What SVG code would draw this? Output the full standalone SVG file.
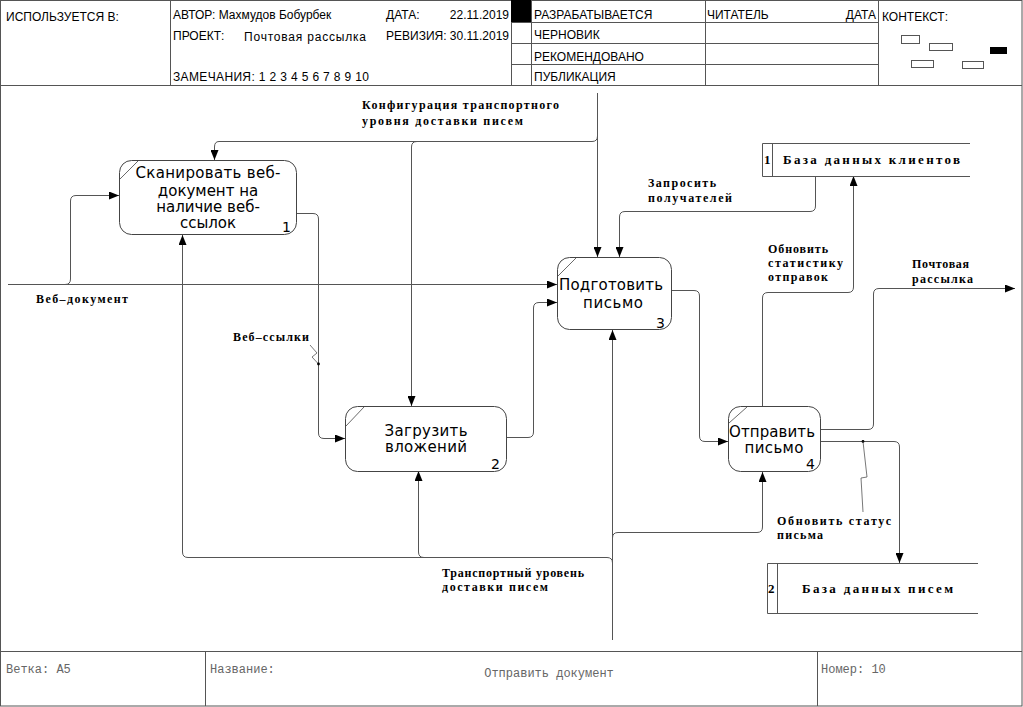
<svg xmlns="http://www.w3.org/2000/svg" width="1023" height="707" viewBox="0 0 1023 707">
  <style>
    .frame { fill: none; stroke: #555; stroke-width: 1; }
    .hdr { font-family: "Liberation Sans", Arial, sans-serif; font-size: 12px; fill: #000; }
    .ftr { font-family: "Liberation Mono", "Courier New", monospace; font-size: 12px; fill: #666; }
    .box { fill: #fff; stroke: #444; stroke-width: 1; }
    .corner { stroke: #444; stroke-width: 0.8; }
    .name { font-family: "DejaVu Sans", sans-serif; font-size: 15px; fill: #000; text-anchor: middle; }
    .num { font-family: "DejaVu Sans", sans-serif; font-size: 14px; fill: #000; }
    .lbl { font-family: "Liberation Serif", "Times New Roman", serif; font-size: 12px; font-weight: bold; fill: #000; }
    .store { fill: none; stroke: #555; stroke-width: 1; }
    .stxt { font-family: "Liberation Serif", "Times New Roman", serif; font-size: 13px; font-weight: bold; fill: #000; }
    .arc { fill: none; stroke: #555; stroke-width: 1; }
    .arr { marker-end: url(#head); }
    .sq { fill: none; stroke: #555; stroke-width: 0.8; }
  </style>
  <defs>
    <marker id="head" markerUnits="userSpaceOnUse" markerWidth="10" markerHeight="8" refX="10" refY="4" orient="auto">
      <path d="M0,0 L10,4 L0,8 z" fill="#000"/>
    </marker>
  </defs>

  <rect x="0" y="0" width="1023" height="707" fill="#fff"/>

  <!-- title block -->
  <g id="header">
    <rect class="frame" x="0.5" y="0.5" width="1021.5" height="705.5"/>
    <path class="frame" d="M0,85.5 H1022 M170.5,0 V85 M511.5,0 V85 M531.5,0 V85 M705.5,0 V85 M878.5,0 V85 M511,22.5 H878 M511,43.5 H878 M511,64.5 H878"/>
    <rect x="511" y="0" width="20" height="22" fill="#000"/>
    <text class="hdr" x="6" y="21">ИСПОЛЬЗУЕТСЯ В:</text>
    <text class="hdr" x="173" y="19">АВТОР: Махмудов Бобурбек</text>
    <text class="hdr" x="386" y="19">ДАТА:</text>
    <text class="hdr" x="509" y="19" text-anchor="end">22.11.2019</text>
    <text class="hdr" x="173" y="40">ПРОЕКТ:</text>
    <text class="hdr" x="244" y="41" textLength="122" lengthAdjust="spacing">Почтовая рассылка</text>
    <text class="hdr" x="386" y="40">РЕВИЗИЯ: 30.11.2019</text>
    <text class="hdr" x="173" y="81" textLength="196" lengthAdjust="spacing">ЗАМЕЧАНИЯ:  1 2 3 4 5 6 7 8 9 10</text>
    <text class="hdr" x="534" y="19">РАЗРАБАТЫВАЕТСЯ</text>
    <text class="hdr" x="534" y="39">ЧЕРНОВИК</text>
    <text class="hdr" x="534" y="61">РЕКОМЕНДОВАНО</text>
    <text class="hdr" x="534" y="81">ПУБЛИКАЦИЯ</text>
    <text class="hdr" x="707" y="19">ЧИТАТЕЛЬ</text>
    <text class="hdr" x="876" y="19" text-anchor="end">ДАТА</text>
    <text class="hdr" x="882" y="21">КОНТЕКСТ:</text>
    <g fill="none" stroke="#555" stroke-width="1">
      <rect x="901.5" y="35.5" width="18" height="8"/>
      <rect x="929.5" y="43.5" width="23" height="7"/>
      <rect x="911.5" y="60.5" width="22" height="7"/>
      <rect x="962.5" y="61.5" width="21" height="7"/>
    </g>
    <rect x="990" y="47" width="17" height="7" fill="#000"/>
  </g>

  <!-- footer -->
  <g id="footer">
    <path class="frame" d="M0,651.5 H1022 M205.5,651 V706 M817.5,651 V706"/>
    <text class="ftr" x="6" y="673" font-size="11">Ветка: A5</text>
    <text class="ftr" x="210" y="673">Название:</text>
    <text class="ftr" x="549" y="677" text-anchor="middle" font-size="13" fill="#222">Отправить документ</text>
    <text class="ftr" x="821" y="673">Номер: 10</text>
  </g>

  <!-- connectors -->
  <g id="connectors">
    <!-- control: transport configuration -->
    <path class="arc arr" d="M597.5,93 V257"/>
    <path class="arc arr" d="M597.5,136 Q597.5,141.5 592,141.5 H219 Q214.5,141.5 214.5,147 V160"/>
    <path class="arc arr" d="M417,141.5 Q411.5,141.5 411.5,147 V406"/>
    <text class="lbl" x="362" y="109" textLength="197" lengthAdjust="spacing">Конфигурация транспортного</text>
    <text class="lbl" x="362" y="125" textLength="161" lengthAdjust="spacing">уровня доставки писем</text>

    <!-- input: web document -->
    <path class="arc arr" d="M8,284.5 H557"/>
    <path class="arc arr" d="M65,284.5 Q70.5,284.5 70.5,279 V201 Q70.5,195.5 76,195.5 H119"/>
    <text class="lbl" x="36" y="303" textLength="92" lengthAdjust="spacing">Веб–документ</text>

    <!-- 1 -> 2: web links -->
    <path class="arc arr" d="M296,213.5 H313 Q318.5,213.5 318.5,219 V433 Q318.5,438.5 324,438.5 H345"/>
    <path class="sq" d="M310,345 L317,353 L312,357 L318.5,364"/>
    <circle cx="318.5" cy="364" r="1.4" fill="#000"/>
    <text class="lbl" x="233" y="341" textLength="76" lengthAdjust="spacing">Веб–ссылки</text>

    <!-- 2 -> 3 -->
    <path class="arc arr" d="M507,437.5 H528 Q533.5,437.5 533.5,432 V308 Q533.5,302.5 539,302.5 H557"/>

    <!-- 3 -> 4 -->
    <path class="arc arr" d="M671,290.5 H694 Q699.5,290.5 699.5,296 V436 Q699.5,441.5 705,441.5 H728"/>

    <!-- 4 -> output: mailing -->
    <path class="arc arr" d="M821,429.5 H868 Q873.5,429.5 873.5,424 V294 Q873.5,288.5 879,288.5 H1015"/>
    <text class="lbl" x="912" y="268" textLength="57" lengthAdjust="spacing">Почтовая</text>
    <text class="lbl" x="912" y="283" textLength="61" lengthAdjust="spacing">рассылка</text>

    <!-- 4 -> store 2: mail status -->
    <path class="arc arr" d="M821,441.5 H894 Q899.5,441.5 899.5,447 V563"/>
    <circle cx="863" cy="441.5" r="1.4" fill="#000"/>
    <path class="sq" d="M863,441.5 L867,477 L861,478 L863,512"/>
    <text class="lbl" x="777" y="525" textLength="114" lengthAdjust="spacing">Обновить статус</text>
    <text class="lbl" x="777" y="539" textLength="46" lengthAdjust="spacing">письма</text>

    <!-- 4 -> store 1: sending statistics -->
    <path class="arc arr" d="M762.5,406 V298 Q762.5,292.5 768,292.5 H848 Q853.5,292.5 853.5,287 V176"/>
    <text class="lbl" x="768" y="253" textLength="60" lengthAdjust="spacing">Обновить</text>
    <text class="lbl" x="768" y="267" textLength="75" lengthAdjust="spacing">статистику</text>
    <text class="lbl" x="768" y="281" textLength="60" lengthAdjust="spacing">отправок</text>

    <!-- store 1 -> 3: recipients -->
    <path class="arc arr" d="M815.5,176 V206 Q815.5,211.5 810,211.5 H625 Q619.5,211.5 619.5,217 V257"/>
    <text class="lbl" x="648" y="187" textLength="68" lengthAdjust="spacing">Запросить</text>
    <text class="lbl" x="648" y="202" textLength="84" lengthAdjust="spacing">получателей</text>

    <!-- mechanism: transport layer -->
    <path class="arc arr" d="M612.5,640 V330"/>
    <path class="arc arr" d="M612.5,538 Q612.5,532.5 618,532.5 H757 Q762.5,532.5 762.5,527 V472"/>
    <path class="arc arr" d="M612.5,563 Q612.5,557.5 607,557.5 H188 Q182.5,557.5 182.5,552 V235"/>
    <path class="arc arr" d="M424,557.5 Q418.5,557.5 418.5,552 V471"/>
    <text class="lbl" x="442" y="577" textLength="142" lengthAdjust="spacing">Транспортный уровень</text>
    <text class="lbl" x="442" y="591" textLength="106" lengthAdjust="spacing">доставки писем</text>
  </g>

  <!-- activity 1 -->
  <g id="box1">
    <rect class="box" x="119.5" y="160.5" width="177" height="74" rx="12"/>
    <line class="corner" x1="120" y1="179" x2="138" y2="161"/>
    <text class="name" x="208" y="178" textLength="145" lengthAdjust="spacing">Сканировать веб-</text>
    <text class="name" x="208" y="196">документ на</text>
    <text class="name" x="208" y="212">наличие веб-</text>
    <text class="name" x="208" y="228">ссылок</text>
    <text class="num" x="282" y="232">1</text>
  </g>

  <!-- activity 2 -->
  <g id="box2">
    <rect class="box" x="345.5" y="406.5" width="161" height="65" rx="12"/>
    <line class="corner" x1="346" y1="426" x2="364" y2="407"/>
    <text class="name" x="426" y="436" textLength="83" lengthAdjust="spacing">Загрузить</text>
    <text class="name" x="426" y="452" textLength="82" lengthAdjust="spacing">вложений</text>
    <text class="num" x="491" y="469">2</text>
  </g>

  <!-- activity 3 -->
  <g id="box3">
    <rect class="box" x="557.5" y="257.5" width="114" height="72" rx="12"/>
    <line class="corner" x1="558" y1="276" x2="576" y2="258"/>
    <text class="name" x="611" y="290" textLength="104" lengthAdjust="spacing">Подготовить</text>
    <text class="name" x="613" y="308" textLength="60" lengthAdjust="spacing">письмо</text>
    <text class="num" x="656" y="328">3</text>
  </g>

  <!-- activity 4 -->
  <g id="box4">
    <rect class="box" x="728.5" y="406.5" width="92" height="65" rx="12"/>
    <line class="corner" x1="729" y1="423" x2="747" y2="407"/>
    <text class="name" x="772" y="437" textLength="86" lengthAdjust="spacing">Отправить</text>
    <text class="name" x="774" y="453" textLength="59" lengthAdjust="spacing">письмо</text>
    <text class="num" x="806" y="469">4</text>
  </g>

  <!-- data store 1 -->
  <g id="store1">
    <path class="store" d="M970,143.5 H762.5 V176.5 H970 M772.5,143.5 V176.5"/>
    <text class="stxt" x="764" y="164">1</text>
    <text class="stxt" x="783" y="164" textLength="177" lengthAdjust="spacing">База данных клиентов</text>
  </g>

  <!-- data store 2 -->
  <g id="store2">
    <path class="store" d="M978,563.5 H767.5 V613.5 H978 M777.5,563.5 V613.5"/>
    <text class="stxt" x="768" y="593">2</text>
    <text class="stxt" x="802" y="593" textLength="151" lengthAdjust="spacing">База данных писем</text>
  </g>
</svg>
